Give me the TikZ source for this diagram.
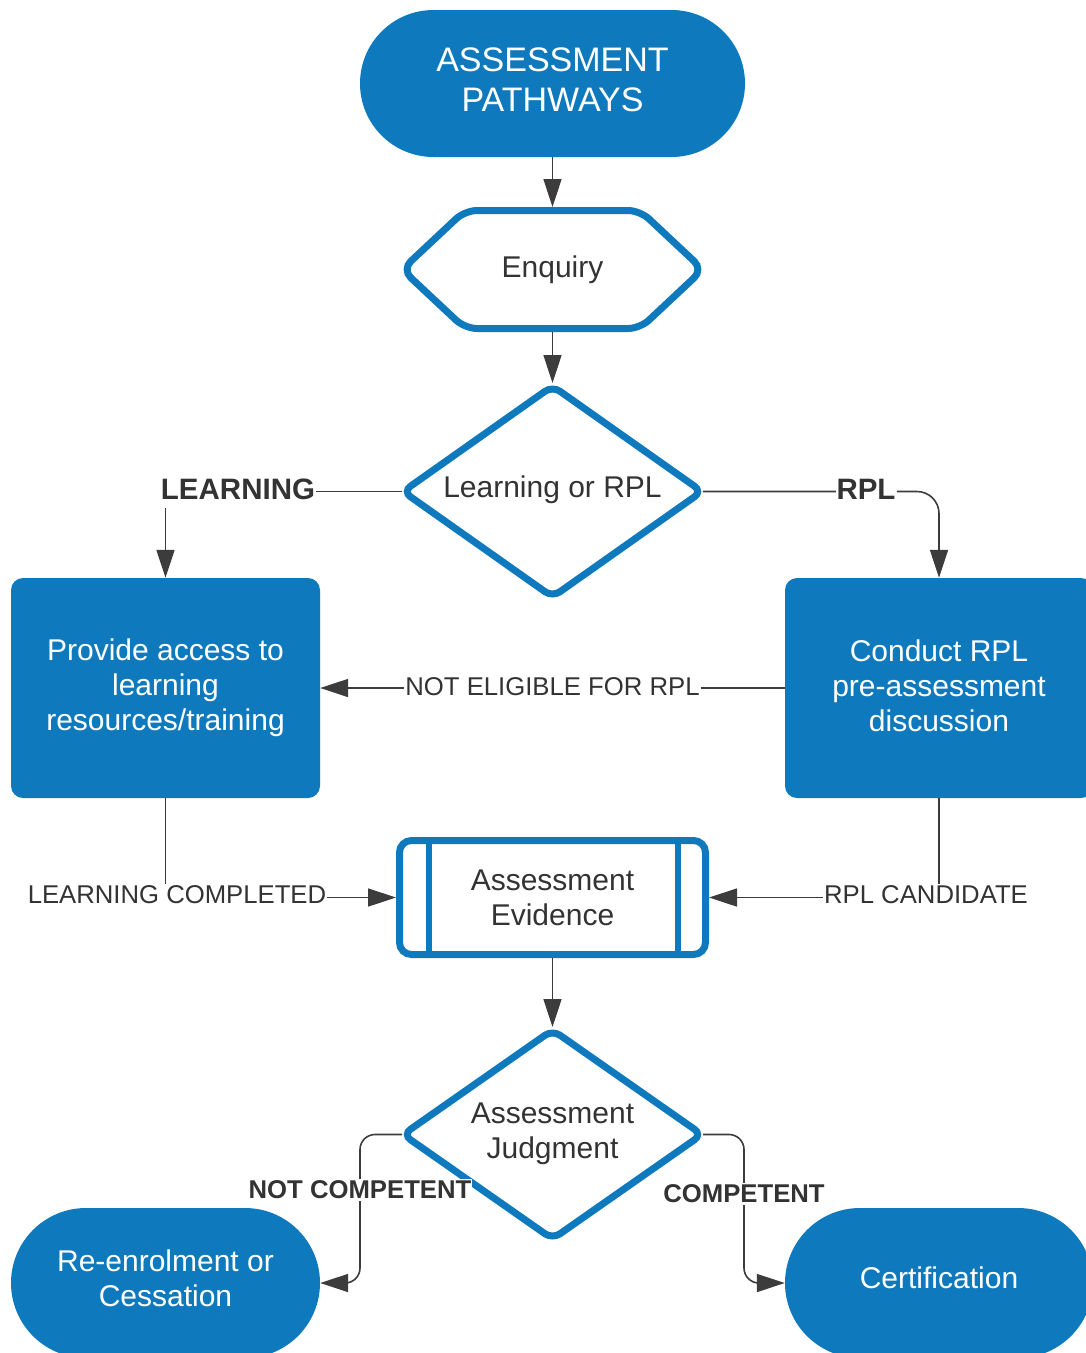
\documentclass[tikz,border=0pt]{standalone}
\usepackage{fontspec}
\setmainfont{Liberation Sans}
\usetikzlibrary{shapes.geometric,arrows.meta,calc}
\definecolor{lblue}{RGB}{14,122,189}
\definecolor{ink}{RGB}{51,51,51}
\definecolor{wire}{RGB}{60,60,60}
\begin{document}
\begin{tikzpicture}[x=1pt,y=-1pt,
  bodyfont/.style={font=\fontsize{30}{35}\selectfont},
  filled/.style={fill=lblue, draw=none, inner sep=0pt},
  whitetext/.style={text=white, align=center, inner sep=0pt, bodyfont},
  inktext/.style={text=ink, align=center, inner sep=0pt, bodyfont},
  ring/.style={draw=lblue, line width=7pt},
  frame/.style={draw=none, inner sep=0pt, outer sep=0pt},
  conn/.style={draw=wire, line width=1.6pt, -{Triangle[length=28pt,width=18pt]}},
  lbl/.style={fill=white, text=ink, inner xsep=1pt, inner ysep=2pt, font=\fontsize{25.7}{30}\selectfont},
  lblbold/.style={lbl, font=\fontsize{25.7}{30}\selectfont\bfseries},
  lblbig/.style={lbl, inner ysep=9pt, font=\fontsize{29.5}{35}\selectfont\bfseries}
]
\useasboundingbox (0,0) rectangle (1086,1353);

% ---------- shapes ----------
\node[filled, minimum width=385pt, minimum height=147pt, rounded corners=73.5pt] (start) at (552.5,83.5) {};
\node[whitetext, font=\fontsize{34}{40}\selectfont] (starttext) at (552.5,79.5) {ASSESSMENT\\PATHWAYS};

\node[frame, minimum width=301pt, minimum height=125pt] (enq) at (552.5,269.5) {};
\draw[ring, rounded corners=12pt]
  (enq.west) -- ($(enq.north west)+(63,3.5)$) -- ($(enq.north east)+(-63,3.5)$)
  -- (enq.east) -- ($(enq.south east)+(-63,-3.5)$) -- ($(enq.south west)+(63,-3.5)$) -- cycle;
\node[inktext] (enqtext) at (enq.center) {Enquiry};

\node[frame, minimum width=301pt, minimum height=217pt] (d1) at (552.5,491.5) {};
\draw[ring, fill=white, rounded corners=9pt]
  ($(d1.west)+(1,0)$) -- ($(d1.north)+(0,3)$) -- ($(d1.east)+(-1,0)$) -- ($(d1.south)+(0,-3)$) -- cycle;
\node[inktext] (d1text) at (552.5,490) {Learning or RPL};

\node[filled, rounded corners=12pt, minimum width=309pt, minimum height=220pt] (lbox) at (165.5,688) {};
\node[whitetext] (lboxtext) at (165.5,688) {Provide access to\\learning\\resources/training};
\node[filled, rounded corners=12pt, minimum width=308pt, minimum height=220pt] (rbox) at (939,688) {};
\node[whitetext] (rboxtext) at (939,686) {Conduct RPL\\pre-assessment\\discussion};

\node[ring, fill=white, rounded corners=12pt, minimum width=306pt, minimum height=114pt, inner sep=0pt] (ev) at (552.5,897.5) {};
\draw[lblue, line width=6pt] ($(ev.north west)+(33,3.5)$) -- ($(ev.south west)+(33,-3.5)$);
\draw[lblue, line width=6pt] ($(ev.north east)+(-31,3.5)$) -- ($(ev.south east)+(-31,-3.5)$);
\node[inktext] (evtext) at (552.5,897.5) {Assessment\\Evidence};

\node[frame, minimum width=301pt, minimum height=215pt] (d2) at (552.5,1134.5) {};
\draw[ring, fill=white, rounded corners=9pt]
  ($(d2.west)+(1,0)$) -- ($(d2.north)+(0,3)$) -- ($(d2.east)+(-1,0)$) -- ($(d2.south)+(0,-3)$) -- cycle;
\node[inktext] (d2text) at (552.5,1134) {Assessment\\Judgment};

\node[filled, minimum width=309pt, minimum height=150pt, rounded corners=75pt] (reterm) at (165.5,1283) {};
\node[whitetext] (retermtext) at (165.5,1278.5) {Re-enrolment or\\Cessation};
\node[filled, minimum width=308pt, minimum height=150pt, rounded corners=75pt] (cert) at (939,1283) {};
\node[whitetext] (certtext) at (939,1278) {Certification};

% ---------- connectors ----------
\draw[conn] (start.south) -- (enq.north);
\draw[conn] (enq.south) -- (d1.north);
\draw[conn] (d1.west) -| (lbox.north);
\draw[conn, rounded corners=22pt] (d1.east) -| (rbox.north);
\draw[conn] (rbox.west) -- (lbox.east);
\draw[conn] (lbox.south) |- (ev.west);
\draw[conn] (rbox.south) |- (ev.east);
\draw[conn] (ev.south) -- (d2.north);
\draw[conn, rounded corners=15pt] (d2.west) -- ++(-42,0) |- (reterm.east);
\draw[conn, rounded corners=15pt] (d2.east) -- ++(41,0) |- (cert.west);

% ---------- labels ----------
\node[lblbig] (llearn) at (238,489) {LEARNING};
\node[lblbig] (lrpl) at (866,489) {RPL};
\node[lbl] (lne) at (552.5,687) {NOT ELIGIBLE FOR RPL};
\node[lbl] (llc) at (177,895) {LEARNING COMPLETED};
\node[lbl] (lrc) at (926,895) {RPL CANDIDATE};
\node[lblbold] (lnc) at (360,1190) {NOT COMPETENT};
\node[lblbold] (lc) at (744,1194) {COMPETENT};
\end{tikzpicture}
\end{document}
